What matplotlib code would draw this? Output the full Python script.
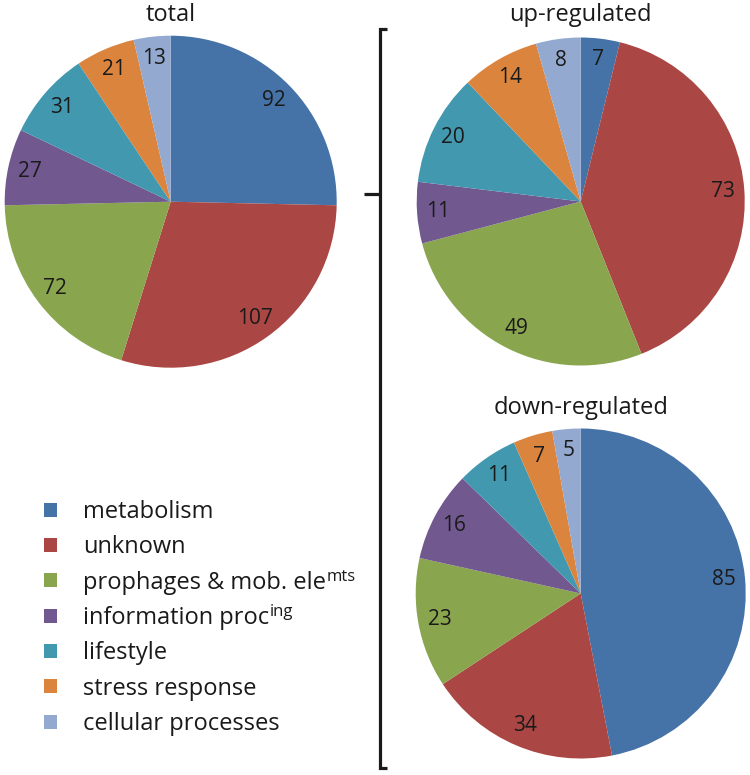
import matplotlib
matplotlib.use('Agg')
import matplotlib.pyplot as plt
from matplotlib.patches import Patch

plt.rcParams['font.family'] = ['Open Sans', 'DejaVu Sans']

categories = ['metabolism', 'unknown', 'prophages & mob. ele', 'information proc',
              'lifestyle', 'stress response', 'cellular processes']
superscripts = {2: 'mts', 3: 'ing'}
colors = ['#4572A7', '#AA4643', '#89A54E', '#71588F', '#4198AF', '#DB843D', '#93A9CF']

total = [92, 107, 72, 27, 31, 21, 13]
up_regulated = [7, 73, 49, 11, 20, 14, 8]
down_regulated = [85, 34, 23, 16, 11, 7, 5]

W, H = 750, 775
fig = plt.figure(figsize=(W / 100, H / 100), dpi=100)


def pie_at(values, cx, cy, r, title, ty):
    ax = fig.add_axes([(cx - r) / W, 1 - (cy + r) / H, 2 * r / W, 2 * r / H])
    n = sum(values)
    ax.pie(values, colors=colors, startangle=90, counterclock=False,
           autopct=lambda p: f'{round(p * n / 100)}', pctdistance=0.87,
           wedgeprops=dict(linewidth=0), textprops=dict(fontsize=15, color='#1a1a1a'))
    ax.set_xlim(-1, 1)
    ax.set_ylim(-1, 1)
    ax.set_aspect('equal')
    fig.text(cx / W, 1 - ty / H, title, ha='center', va='center', fontsize=17, color='#1a1a1a')


pie_at(total, 170.7, 201.7, 166, 'total', 15)
pie_at(up_regulated, 580.7, 201.5, 164, 'up-regulated', 15)
pie_at(down_regulated, 580.7, 593.5, 165, 'down-regulated', 408)

# bracket
ov = fig.add_axes([0, 0, 1, 1], facecolor='none')
ov.set_xlim(0, W)
ov.set_ylim(H, 0)
ov.axis('off')
ov.plot([387, 380, 380, 387], [29, 29, 768, 768], color='#1a1a1a', lw=2.3,
        solid_joinstyle='miter', solid_capstyle='butt')
ov.plot([364, 380], [194, 194], color='#1a1a1a', lw=2.3, solid_capstyle='butt')

handles = [Patch(facecolor=c, edgecolor='none') for c in colors]
leg = fig.legend(handles, categories, loc='upper left', bbox_to_anchor=(44 / W, 1 - 500 / H),
                 frameon=False, fontsize=17, handlelength=0.55, handleheight=0.55,
                 handletextpad=1.1, labelspacing=0.48, borderaxespad=0, borderpad=0)
for t in leg.get_texts():
    t.set_color('#1a1a1a')

# superscripts after the two abbreviated labels
fig.canvas.draw()
texts = leg.get_texts()
for i, sup in superscripts.items():
    bb = texts[i].get_window_extent()
    fig.text((bb.x1 + 1) / W, (bb.y0 + 6 + 8) / H, sup, ha='left', va='baseline',
             fontsize=12, color='#1a1a1a')

fig.savefig('out.png', dpi=100)
